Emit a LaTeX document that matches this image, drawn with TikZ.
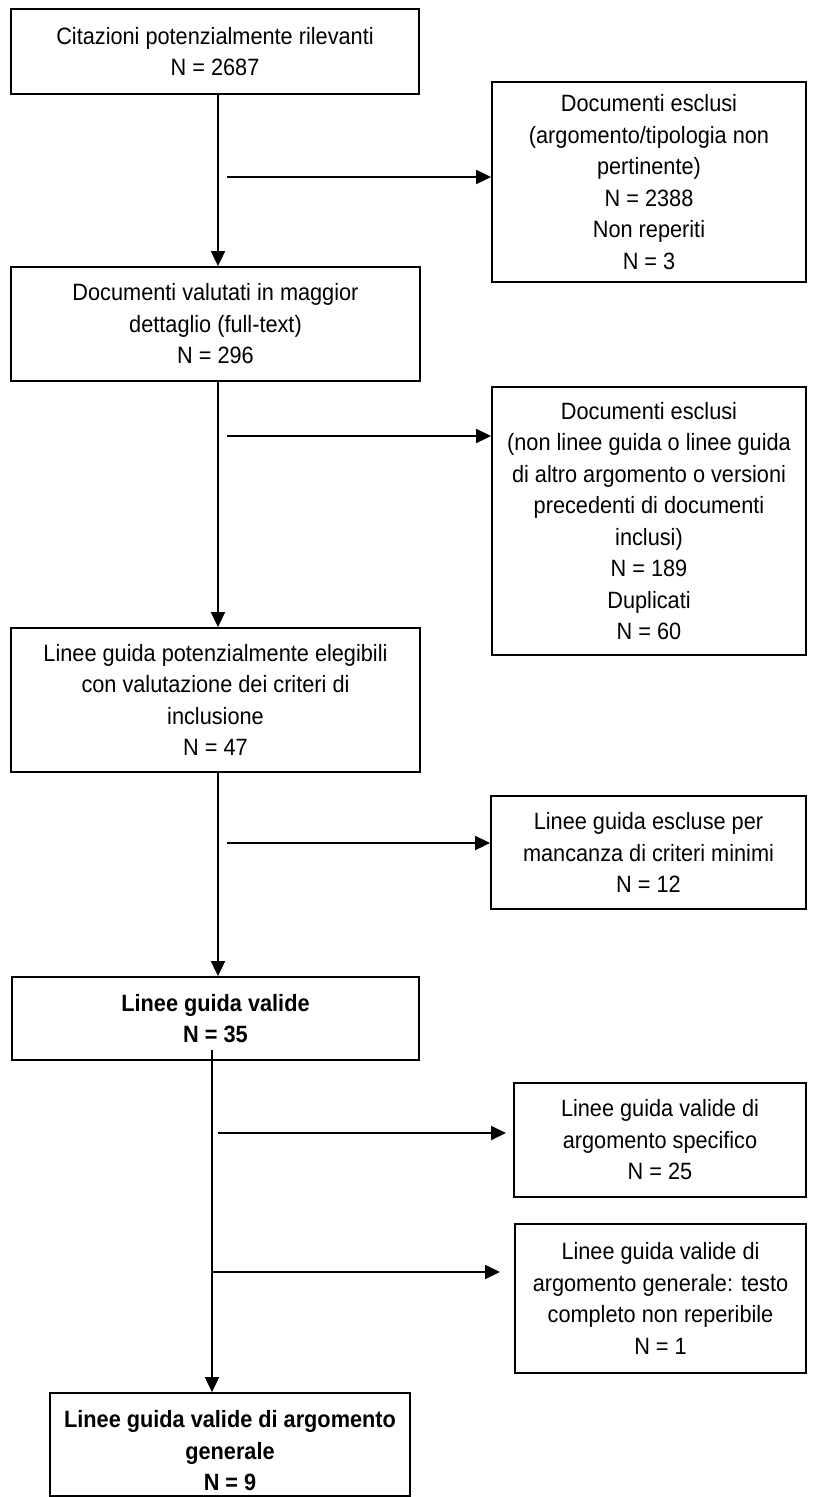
\documentclass[tikz,border=0pt]{standalone}
\usepackage{fontspec}
\setmainfont[FakeStretch=0.92]{Liberation Sans}
\usetikzlibrary{arrows.meta}
\begin{document}
\begin{tikzpicture}[x=1pt,y=-1pt,
  box/.style={draw, line width=1.8pt, inner sep=0pt, align=center,
    font=\fontsize{23.6}{31.5}\selectfont},
  bbox/.style={box, font=\fontsize{23.6}{31.5}\selectfont\bfseries},
  arr/.style={line width=1.8pt, -{Triangle[length=15pt,width=14pt]}}]
\useasboundingbox (0,0) rectangle (814,1497);
\node[box, minimum width=408pt, minimum height=85pt] (b1) at (215,51.5)
  {Citazioni potenzialmente rilevanti\\N = 2687};
\node[box, minimum width=314pt, minimum height=200pt] (b2) at (649,182)
  {Documenti esclusi\\(argomento/tipologia non\\pertinente)\\N = 2388\\Non reperiti\\N = 3};
\node[box, minimum width=409pt, minimum height=114pt] (b3) at (215.5,324)
  {Documenti valutati in maggior\\dettaglio (full-text)\\N = 296};
\node[box, minimum width=314pt, minimum height=268pt] (b4) at (649,521)
  {Documenti esclusi\\(non linee guida o linee guida\\di altro argomento o versioni\\precedenti di documenti\\inclusi)\\N = 189\\Duplicati\\N = 60};
\node[box, minimum width=409pt, minimum height=144pt] (b5) at (215.5,700)
  {Linee guida potenzialmente elegibili\\con valutazione dei criteri di\\inclusione\\N = 47};
\node[box, minimum width=315pt, minimum height=113pt] (b6) at (648.5,852.5)
  {Linee guida escluse per\\mancanza di criteri minimi\\N = 12};
\node[bbox, minimum width=407pt, minimum height=83pt] (b7) at (215.5,1018.5)
  {Linee guida valide\\N = 35};
\node[box, minimum width=292pt, minimum height=114pt] (b8) at (660,1140)
  {Linee guida valide di\\argomento specifico\\N = 25};
\node[box, minimum width=291pt, minimum height=149pt] (b9) at (660.5,1298.5)
  {Linee guida valide di\\argomento generale: testo\\completo non reperibile\\N = 1};
\node[bbox, minimum width=360pt, minimum height=103pt] (b10) at (230,1444.5)
  {\rule{0pt}{30pt}Linee guida valide di argomento\\generale\\N = 9};
\coordinate (v1) at (218,0);
\coordinate (h1) at (227,177);
\coordinate (h2) at (227,436);
\coordinate (h3) at (227,843);
\coordinate (v4) at (212,1050);
\coordinate (h4) at (218,1133);
\coordinate (t4) at (506,1133);
\coordinate (h5) at (212,1272);
\coordinate (t5) at (500,1272);
\draw[arr] (b1.south -| v1) -- (b3.north -| v1);
\draw[arr] (h1) -- (h1 -| b2.west);
\draw[arr] (b3.south -| v1) -- (b5.north -| v1);
\draw[arr] (h2) -- (h2 -| b4.west);
\draw[arr] (b5.south -| v1) -- (b7.north -| v1);
\draw[arr] (h3) -- (h3 -| b6.west);
\draw[arr] (v4) -- (v4 |- b10.north);
\draw[arr] (h4) -- (t4);
\draw[arr] (h5) -- (t5);
\end{tikzpicture}
\end{document}
